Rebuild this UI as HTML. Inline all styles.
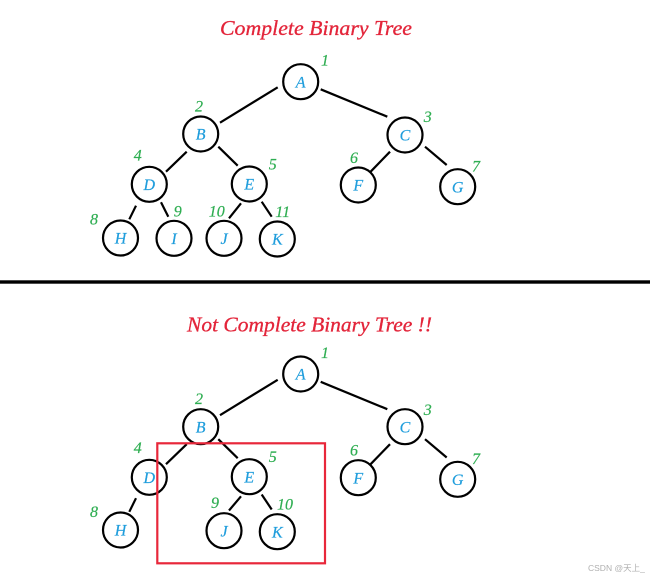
<!DOCTYPE html>
<html><head><meta charset="utf-8"><style>
html,body{margin:0;padding:0;background:#fff;}
svg{display:block;}
.t{font-family:"Liberation Serif",serif;font-style:italic;fill:#e3253a;font-size:21px;stroke:#e3253a;stroke-width:0.3;}
.n{font-family:"Liberation Serif",serif;font-style:italic;fill:#1f9ddc;font-size:16px;text-anchor:middle;stroke:#1f9ddc;stroke-width:0.2;}
.g{font-family:"Liberation Serif",serif;font-style:italic;fill:#2fae52;font-size:16px;text-anchor:middle;stroke:#2fae52;stroke-width:0.2;}
circle{fill:#fff;stroke:#000;stroke-width:2.2;}
line{stroke:#000;stroke-width:2.2;}
</style></head><body>
<svg width="650" height="579" viewBox="0 0 650 579" xmlns="http://www.w3.org/2000/svg">
<text class="t" x="220" y="35" textLength="192" lengthAdjust="spacingAndGlyphs">Complete Binary Tree</text>
<!-- top edges -->
<line x1="277.7" y1="87.3" x2="220" y2="122.7"/>
<line x1="320.7" y1="89.3" x2="387.3" y2="116.7"/>
<line x1="186.7" y1="151.7" x2="166" y2="171.7"/>
<line x1="218.3" y1="146.7" x2="237.7" y2="165.7"/>
<line x1="390" y1="151.7" x2="370" y2="172.3"/>
<line x1="425" y1="146.7" x2="446.7" y2="165"/>
<line x1="136" y1="205.7" x2="129.3" y2="219.3"/>
<line x1="161" y1="202.3" x2="168.3" y2="216.7"/>
<line x1="241" y1="203.3" x2="229" y2="218.3"/>
<line x1="261.7" y1="201.7" x2="271.7" y2="216.7"/>
<!-- top nodes -->
<circle cx="300.7" cy="81.7" r="17.5"/><text class="n" x="300.7" y="87.3">A</text>
<circle cx="200.7" cy="134" r="17.5"/><text class="n" x="200.7" y="139.6">B</text>
<circle cx="405" cy="135" r="17.5"/><text class="n" x="405" y="140.6">C</text>
<circle cx="149.3" cy="184.3" r="17.5"/><text class="n" x="149.3" y="189.9">D</text>
<circle cx="249.3" cy="184" r="17.5"/><text class="n" x="249.3" y="189.6">E</text>
<circle cx="358.3" cy="185" r="17.5"/><text class="n" x="358.3" y="190.6">F</text>
<circle cx="457.7" cy="186.7" r="17.5"/><text class="n" x="457.7" y="192.3">G</text>
<circle cx="120.5" cy="238" r="17.5"/><text class="n" x="120.5" y="243.6">H</text>
<circle cx="174" cy="238.3" r="17.5"/><text class="n" x="174" y="243.9">I</text>
<circle cx="224" cy="238.3" r="17.5"/><text class="n" x="224" y="243.9">J</text>
<circle cx="277.3" cy="239" r="17.5"/><text class="n" x="277.3" y="244.6">K</text>
<!-- top numbers -->
<text class="g" x="325" y="65.5">1</text>
<text class="g" x="199" y="111.5">2</text>
<text class="g" x="427.7" y="122.2">3</text>
<text class="g" x="137.7" y="160.5">4</text>
<text class="g" x="272.7" y="169.5">5</text>
<text class="g" x="354" y="162.8">6</text>
<text class="g" x="476" y="171.5">7</text>
<text class="g" x="94" y="224.5">8</text>
<text class="g" x="177.7" y="216.5">9</text>
<text class="g" x="216.7" y="216.5">10</text>
<text class="g" x="282.7" y="217.2">11</text>

<rect x="0" y="280.3" width="650" height="3.4" fill="#000"/>

<text class="t" x="187" y="331.7" textLength="245" lengthAdjust="spacingAndGlyphs">Not Complete Binary Tree !!</text>
<!-- bottom edges -->
<line x1="277.7" y1="379.8" x2="220" y2="415.2"/>
<line x1="320.7" y1="381.8" x2="387.3" y2="409.2"/>
<line x1="186.7" y1="444.2" x2="166" y2="464.2"/>
<line x1="218.3" y1="439.2" x2="237.7" y2="458.2"/>
<line x1="390" y1="444.2" x2="370" y2="464.8"/>
<line x1="425" y1="439.2" x2="446.7" y2="457.5"/>
<line x1="136" y1="498.2" x2="129.3" y2="511.8"/>
<line x1="241" y1="496.3" x2="229" y2="510.5"/>
<line x1="261.7" y1="494.5" x2="271.7" y2="509.5"/>
<!-- bottom nodes -->
<circle cx="300.7" cy="374" r="17.5"/><text class="n" x="300.7" y="379.6">A</text>
<circle cx="200.7" cy="426.7" r="17.5"/><text class="n" x="200.7" y="432.3">B</text>
<circle cx="405" cy="426.7" r="17.5"/><text class="n" x="405" y="432.3">C</text>
<circle cx="149.3" cy="477.3" r="17.5"/><text class="n" x="149.3" y="482.9">D</text>
<circle cx="249.3" cy="476.7" r="17.5"/><text class="n" x="249.3" y="482.3">E</text>
<circle cx="358.3" cy="477.7" r="17.5"/><text class="n" x="358.3" y="483.3">F</text>
<circle cx="457.7" cy="479.3" r="17.5"/><text class="n" x="457.7" y="484.9">G</text>
<circle cx="120.5" cy="530" r="17.5"/><text class="n" x="120.5" y="535.6">H</text>
<circle cx="224" cy="530.7" r="17.5"/><text class="n" x="224" y="536.3">J</text>
<circle cx="277.3" cy="531.7" r="17.5"/><text class="n" x="277.3" y="537.3">K</text>
<!-- bottom numbers -->
<text class="g" x="325" y="358.2">1</text>
<text class="g" x="199" y="403.8">2</text>
<text class="g" x="427.7" y="414.8">3</text>
<text class="g" x="137.7" y="452.8">4</text>
<text class="g" x="272.7" y="462.2">5</text>
<text class="g" x="354" y="455.5">6</text>
<text class="g" x="476" y="463.8">7</text>
<text class="g" x="94" y="517.2">8</text>
<text class="g" x="215" y="508.2">9</text>
<text class="g" x="285" y="509.5">10</text>

<rect x="157.3" y="443.3" width="167.7" height="120" fill="none" stroke="#e8273a" stroke-width="2.2"/>

<text x="588" y="571" font-family="Liberation Sans, Noto Sans CJK SC, sans-serif" font-size="8.5" fill="#b0b0b0">CSDN @天上_</text>
</svg>
</body></html>
